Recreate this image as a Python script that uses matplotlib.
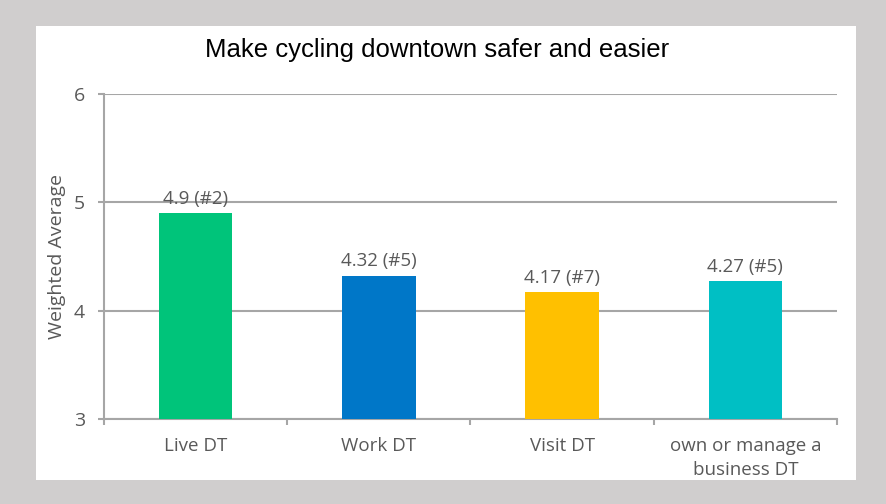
import matplotlib as mpl
mpl.use('Agg')
import matplotlib.pyplot as plt
from matplotlib.patches import Rectangle

# chart data
categories = ['Live DT', 'Work DT', 'Visit DT', 'own or manage a\nbusiness DT']
values = [4.9, 4.32, 4.17, 4.27]
labels = ['4.9 (#2)', '4.32 (#5)', '4.17 (#7)', '4.27 (#5)']
colors = ['#00C47A', '#0077C8', '#FFC000', '#00BFC4']

W, H = 887, 504
fig = plt.figure(figsize=(W / 100, H / 100), dpi=100, facecolor='#D0CECE')

# white panel inside the gray frame
fig.patches.append(Rectangle((36 / W, 1 - 480 / H), (856 - 36) / W, (480 - 26) / H,
                             transform=fig.transFigure, facecolor='white',
                             edgecolor='none', zorder=-5))

ax = fig.add_axes([104 / W, 1 - 419 / H, (837 - 104) / W, (419 - 94) / H])
ax.set_facecolor('none')

text_color = '#595959'
grid_color = '#A6A6A6'
font = ['Open Sans', 'DejaVu Sans']

x = range(len(categories))
ax.bar(x, [v - 3 for v in values], bottom=3, width=0.4, color=colors, zorder=3)

for i, v in enumerate(values):
    ax.annotate(labels[i], (i, v), xytext=(0, 4), textcoords='offset points',
                ha='center', va='bottom', fontsize=13.5, color=text_color, family=font)

ax.set_xlim(-0.5, len(categories) - 0.5)
ax.set_ylim(3, 6)
ax.set_yticks([3, 4, 5, 6])
ax.yaxis.grid(True, color=grid_color, linewidth=1.5, zorder=0)
ax.set_axisbelow(True)

ax.set_xticks([i + 0.5 for i in range(-1, len(categories))])
ax.set_xticklabels([])
ax.set_xticks(list(x), minor=True)
ax.set_xticklabels(categories, minor=True, fontsize=13.5, color=text_color, family=font,
                   linespacing=1.45)
ax.tick_params(axis='x', which='minor', length=0, pad=13)
ax.tick_params(axis='x', which='major', length=4.5, color=grid_color, width=1.5, direction='out')
ax.tick_params(axis='y', length=4.5, color=grid_color, width=1.5, labelsize=14,
               labelcolor=text_color, pad=9)
for t in ax.get_yticklabels():
    t.set_family(font)

for s in ['top', 'right']:
    ax.spines[s].set_visible(False)
for s in ['left', 'bottom']:
    ax.spines[s].set_color(grid_color)
    ax.spines[s].set_linewidth(1.5)

ax.set_ylabel('Weighted Average', fontsize=14, color=text_color, family=font, labelpad=6)

fig.text(437 / W, 1 - 50 / H, 'Make cycling downtown safer and easier', ha='center', va='center',
         fontsize=18.5, color='black', family=['Liberation Sans', 'DejaVu Sans'])

plt.savefig('out.png', dpi=100, facecolor=fig.get_facecolor())
